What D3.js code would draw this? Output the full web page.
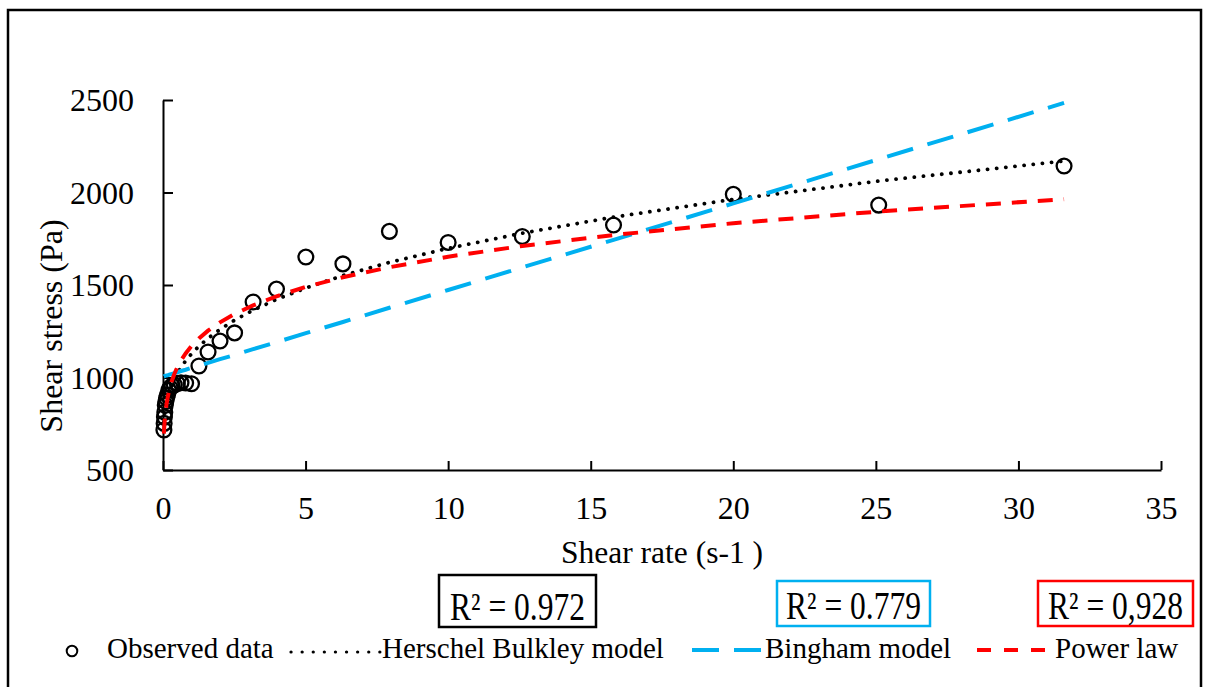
<!DOCTYPE html>
<html>
<head>
<meta charset="utf-8">
<script src="https://cdn.jsdelivr.net/npm/d3@7"></script>
<style>
  html, body { margin: 0; padding: 0; background: #fff; }
  svg { display: block; font-family: "Liberation Serif", "Times New Roman", serif; }
</style>
</head>
<body>
<svg id="chart" width="1206" height="687"></svg>
<script>
// Shear rate sweep (s-1) and measured shear stress (Pa)
const shearRate = [0.0316, 0.0398, 0.0501, 0.0631, 0.0794, 0.1, 0.126, 0.158, 0.2, 0.251,
  0.316, 0.398, 0.501, 0.631, 0.794, 1.0, 1.26, 1.58, 2.0, 2.51,
  3.16, 3.98, 5.01, 6.31, 7.94, 10.0, 12.6, 15.8, 20.0, 25.1, 31.6];
const observedStress = [716, 752, 786, 812, 850, 870, 889, 905, 930, 945,
  955, 960, 968, 972, 970, 966, 1062, 1138, 1197, 1241,
  1408, 1478, 1651, 1614, 1790, 1730, 1762, 1824, 1990, 1932, 2143];

// Fitted model stresses (Pa) at the same shear rates
const herschelBulkley = [758, 773, 788, 805, 823, 842, 863, 884, 909, 934,
  961, 990, 1021, 1054, 1090, 1128, 1169, 1212, 1260, 1310,
  1364, 1422, 1484, 1551, 1622, 1698, 1780, 1867, 1963, 2062, 2170];
const bingham = [1006, 1007, 1007, 1008, 1009, 1010, 1011, 1012, 1014, 1017,
  1020, 1024, 1028, 1035, 1042, 1052, 1064, 1079, 1099, 1122,
  1153, 1191, 1240, 1300, 1377, 1473, 1595, 1744, 1941, 2180, 2484];
const powerLaw = [697, 721, 747, 773, 800, 828, 858, 887, 919, 951,
  984, 1019, 1055, 1092, 1130, 1170, 1211, 1253, 1298, 1343,
  1390, 1439, 1490, 1542, 1596, 1653, 1711, 1770, 1834, 1897, 1964];

const xTicks = [0, 5, 10, 15, 20, 25, 30, 35];
const yTicks = [500, 1000, 1500, 2000, 2500];
const rSquared = ["R² = 0.972", "R² = 0.779", "R² = 0,928"];
const legendLabels = ["Observed data", "Herschel Bulkley model", "Bingham model", "Power law"];

const svg = d3.select("#chart");
const x = d3.scaleLinear().domain([0, 35]).range([163, 1161]);
const y = d3.scaleLinear().domain([500, 2500]).range([470, 100]);

const BLUE = "#00b0f0", RED = "#ff0000";

// outer frame
svg.append("rect")
  .attr("x", 8).attr("y", 10).attr("width", 1193).attr("height", 700)
  .attr("fill", "none").attr("stroke", "#000").attr("stroke-width", 2.5);

// axes
const plain = d3.format("d");
const xAxis = svg.append("g").attr("transform", "translate(0,470)")
  .call(d3.axisBottom(x).tickValues(xTicks).tickFormat(plain)
    .tickSizeInner(-9).tickSizeOuter(0).tickPadding(0));
const yAxis = svg.append("g").attr("transform", "translate(163,0)")
  .call(d3.axisLeft(y).tickValues(yTicks).tickFormat(plain)
    .tickSizeInner(-10).tickSizeOuter(0).tickPadding(29));

[xAxis, yAxis].forEach(g => {
  g.attr("font-family", null).attr("font-size", null);
  g.select(".domain").attr("stroke", "#000").attr("stroke-width", 2);
  g.selectAll(".tick line").attr("stroke", "#000").attr("stroke-width", 2);
  g.selectAll("text").attr("fill", "#000").style("font-size", "32px");
});
xAxis.selectAll("text").attr("y", 49).attr("dy", null);
yAxis.selectAll("text").attr("dy", "0.33em");

// axis titles
svg.append("text").attr("x", 662).attr("y", 563).attr("text-anchor", "middle")
  .style("font-size", "31.5px").text("Shear rate (s-1 )");
svg.append("text").attr("transform", "translate(62,326) rotate(-90)")
  .attr("text-anchor", "middle").style("font-size", "32px").text("Shear stress (Pa)");

const pts = shearRate.map((r, i) => ({ r, obs: observedStress[i], hb: herschelBulkley[i], bg: bingham[i], pl: powerLaw[i] }));

// observed data
svg.append("g").selectAll("circle").data(pts).join("circle")
  .attr("cx", d => x(d.r)).attr("cy", d => y(d.obs)).attr("r", 7.4)
  .attr("fill", "none").attr("stroke", "#000").attr("stroke-width", 2.3);

// model curves
const lineFor = key => d3.line().x(d => x(d.r)).y(d => y(d[key]));
svg.append("path").datum(pts).attr("d", lineFor("hb"))
  .attr("fill", "none").attr("stroke", "#000").attr("stroke-width", 3.8)
  .attr("stroke-linecap", "round").attr("stroke-dasharray", "0.1 9.1");
svg.append("path").datum(pts).attr("d", lineFor("bg"))
  .attr("fill", "none").attr("stroke", BLUE).attr("stroke-width", 4)
  .attr("stroke-dasharray", "27 15");
svg.append("path").datum(pts).attr("d", lineFor("pl"))
  .attr("fill", "none").attr("stroke", RED).attr("stroke-width", 4)
  .attr("stroke-dasharray", "15 11");

// R² boxes
const boxes = [
  { x0: 439, y0: 575, x1: 596, y1: 627, color: "#000" },
  { x0: 777, y0: 581, x1: 930, y1: 626, color: BLUE },
  { x0: 1038, y0: 581, x1: 1193, y1: 626, color: RED }
];
boxes.forEach((b, i) => {
  svg.append("rect").attr("x", b.x0).attr("y", b.y0)
    .attr("width", b.x1 - b.x0).attr("height", b.y1 - b.y0)
    .attr("fill", "#fff").attr("stroke", b.color).attr("stroke-width", 2.5);
  svg.append("text")
    .attr("transform", `translate(${(b.x0 + b.x1) / 2},${b.y1 - 7}) scale(1,1.25)`)
    .attr("text-anchor", "middle").style("font-size", "31.5px").text(rSquared[i]);
});

// legend
const lg = svg.append("g");
const ly = 651;
lg.append("circle").attr("cx", 72).attr("cy", ly).attr("r", 5.3)
  .attr("fill", "none").attr("stroke", "#000").attr("stroke-width", 2);
lg.append("line").attr("x1", 291).attr("x2", 380).attr("y1", ly + 1).attr("y2", ly + 1)
  .attr("stroke", "#000").attr("stroke-width", 3.2).attr("stroke-linecap", "round")
  .attr("stroke-dasharray", "0.1 11");
lg.append("line").attr("x1", 692).attr("x2", 761).attr("y1", ly - 1).attr("y2", ly - 1)
  .attr("stroke", BLUE).attr("stroke-width", 4).attr("stroke-dasharray", "27 15");
lg.append("line").attr("x1", 977).attr("x2", 1050).attr("y1", ly - 1).attr("y2", ly - 1)
  .attr("stroke", RED).attr("stroke-width", 4).attr("stroke-dasharray", "14 13");
const labelX = [107, 382, 765, 1055];
legendLabels.forEach((t, i) => {
  lg.append("text").attr("x", labelX[i]).attr("y", 658).style("font-size", "29px").text(t);
});
</script>
</body>
</html>
